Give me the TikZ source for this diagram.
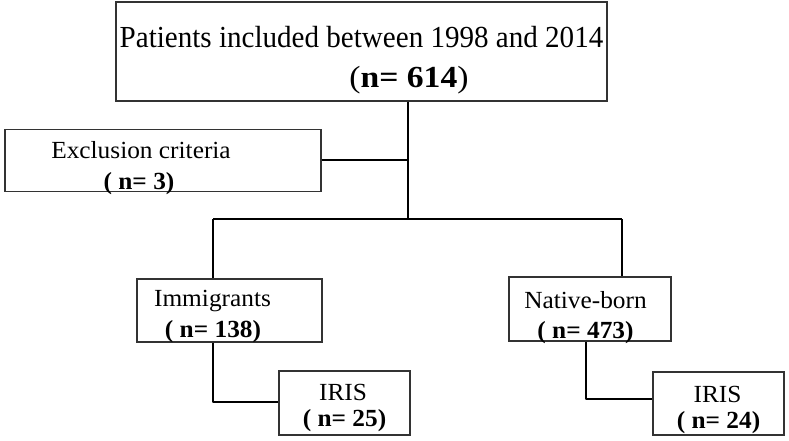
\documentclass[tikz,border=0pt]{standalone}
\usepackage{fontspec}
\setmainfont{Liberation Serif}
\newfontfamily\bigfont[FakeStretch=0.95]{Liberation Serif}
\newfontfamily\bigboldfont[FakeStretch=1.1]{Liberation Serif}
\newfontfamily\smallfont[FakeStretch=1.03]{Liberation Serif}
\begin{document}
\begin{tikzpicture}[x=1pt,y=-1pt,
  box/.style={draw=black!80, line width=1.4pt, fill=white, inner sep=0pt},
  link/.style={draw=black, line width=2.8pt},
  lbl/.style={inner sep=0pt, anchor=base},
  big/.style={font=\bigfont\fontsize{30.6}{34}\selectfont},
  bigb/.style={font=\bigboldfont\fontsize{30.6}{34}\selectfont},
  small/.style={font=\smallfont\fontsize{24.6}{28}\selectfont}]
\useasboundingbox (0,0) rectangle (789,441);
% boxes
\node[box, minimum width=491pt, minimum height=99pt] (top) at (361.5,51.5) {};
\node[box, minimum width=316pt, minimum height=62pt] (excl) at (163,160.5) {};
\node[box, minimum width=185pt, minimum height=63pt] (imm) at (229.5,310.5) {};
\node[box, minimum width=162pt, minimum height=64pt] (nat) at (590,309) {};
\node[box, minimum width=131pt, minimum height=64pt] (iris1) at (344.5,403) {};
\node[box, minimum width=131pt, minimum height=63pt] (iris2) at (718.5,403.5) {};
% junction coordinates
\coordinate (jmain) at (408,219);
\coordinate (jexcl) at (408,160);
\coordinate (jleft) at (213,219);
\coordinate (jright) at (622,219);
\coordinate (bimm) at (213,402);
\coordinate (bnat) at (586,399);
% connectors
\draw[link] (top.south -| jmain) -- (jmain);
\draw[link] (excl.east |- jexcl) -- (jexcl);
\draw[link] (jleft) -- (jright);
\draw[link] (jleft) -- (imm.north -| jleft);
\draw[link] (jright) -- (nat.north -| jright);
\draw[link, line join=round] (imm.south -| bimm) -- (bimm) -- (iris1.west |- bimm);
\draw[link, line join=round] (nat.south -| bnat) -- (bnat) -- (iris2.west |- bnat);
% labels
\node[lbl, big] (t1) at (361.5,47.5) {Patients included between 1998 and 2014};
\node[lbl, bigb] (t2) at (409,87.5) {(\textbf{n= 614})};
\node[lbl, small] (e1) at (141,158.5) {Exclusion criteria};
\node[lbl, small] (e2) at (139,189.5) {\textbf{( n= 3)}};
\node[lbl, small] (i1) at (212.5,306) {Immigrants};
\node[lbl, small] (i2) at (213,337) {\textbf{( n= 138)}};
\node[lbl, small] (n1) at (585.5,308) {Native-born};
\node[lbl, small] (n2) at (585.5,338) {\textbf{( n= 473)}};
\node[lbl, small] (r1) at (343,400) {IRIS};
\node[lbl, small] (r2) at (344.5,426.5) {\textbf{( n= 25)}};
\node[lbl, small] (s1) at (717.5,402) {IRIS};
\node[lbl, small] (s2) at (718.5,428) {\textbf{( n= 24)}};
\end{tikzpicture}
\end{document}
